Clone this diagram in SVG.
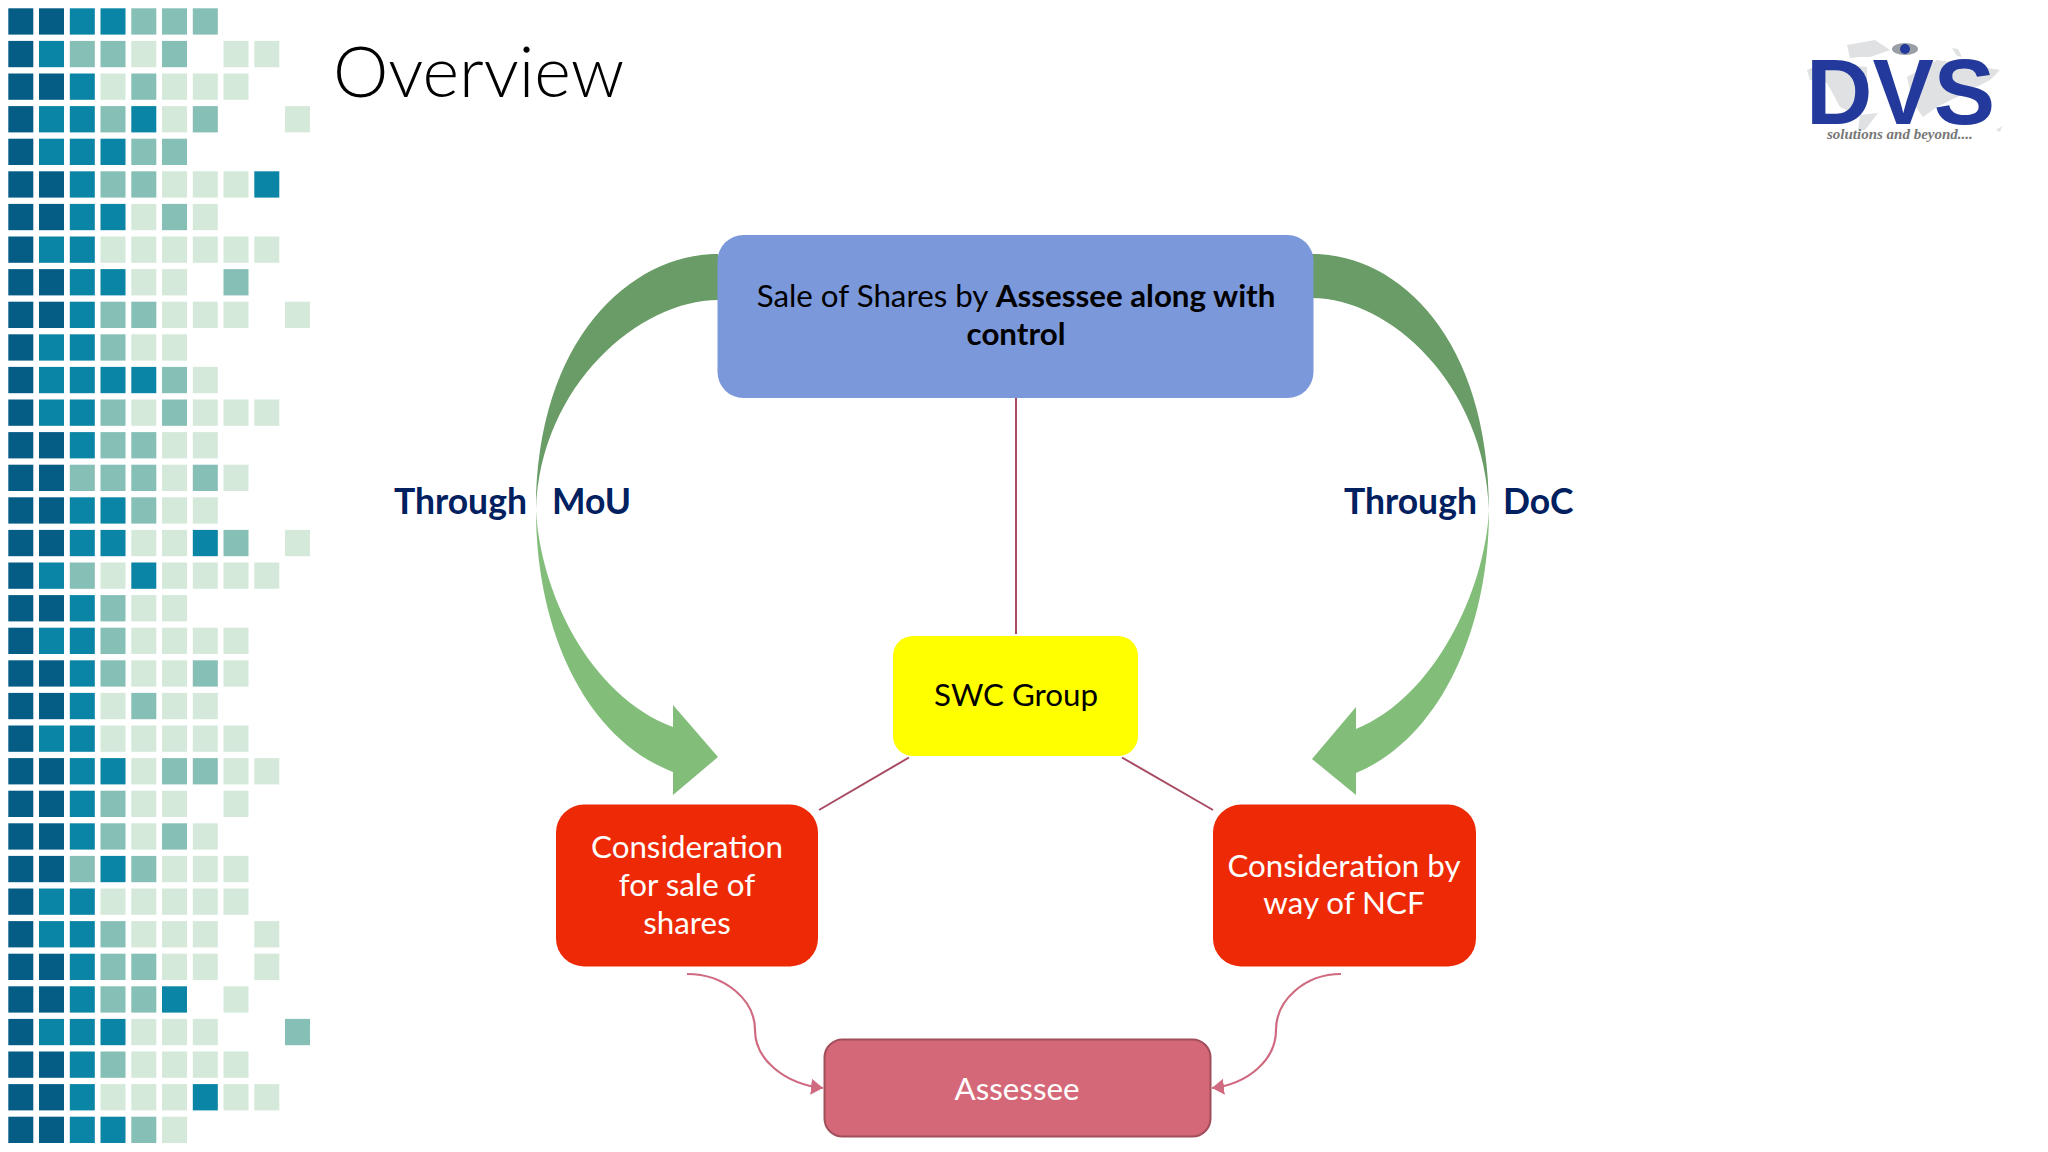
<svg xmlns="http://www.w3.org/2000/svg" width="2048" height="1152" viewBox="0 0 2048 1152">
<style>
text{font-family:"Lato","Liberation Sans",sans-serif}
#pattern rect{width:25px;height:26.3px}
.D{fill:#055c85}.T{fill:#0b85a6}.M{fill:#85bfb6}.L{fill:#d4e9da}
.dark{fill:#699c66}.light{fill:#82bd7a}
.line{fill:none;stroke:#a84a62;stroke-width:2}
.curve{fill:none;stroke:#cf6a80;stroke-width:2.2;marker-end:url(#head)}
.lbl{font-size:31.3px;text-anchor:middle}
.big{font-size:35.5px;font-weight:700;fill:#002060}
</style>
<defs><marker id="head" markerUnits="userSpaceOnUse" markerWidth="14" markerHeight="16" refX="12" refY="8" orient="auto"><path d="M0,0L12,8L0,16z" fill="#cf6a80"/></marker></defs>
<rect width="2048" height="1152" fill="#fff"/>
<g id="pattern">
<g transform="translate(0,8.3)"><rect class="D" x="8.3"/><rect class="D" x="39"/><rect class="T" x="69.8"/><rect class="T" x="100.5"/><rect class="M" x="131.3"/><rect class="M" x="162"/><rect class="M" x="192.8"/></g>
<g transform="translate(0,40.9)"><rect class="D" x="8.3"/><rect class="T" x="39"/><rect class="M" x="69.8"/><rect class="M" x="100.5"/><rect class="L" x="131.3"/><rect class="M" x="162"/><rect class="L" x="223.5"/><rect class="L" x="254.3"/></g>
<g transform="translate(0,73.5)"><rect class="D" x="8.3"/><rect class="D" x="39"/><rect class="T" x="69.8"/><rect class="L" x="100.5"/><rect class="M" x="131.3"/><rect class="L" x="162"/><rect class="L" x="192.8"/><rect class="L" x="223.5"/></g>
<g transform="translate(0,106.1)"><rect class="D" x="8.3"/><rect class="T" x="39"/><rect class="T" x="69.8"/><rect class="M" x="100.5"/><rect class="T" x="131.3"/><rect class="L" x="162"/><rect class="M" x="192.8"/><rect class="L" x="285"/></g>
<g transform="translate(0,138.7)"><rect class="D" x="8.3"/><rect class="T" x="39"/><rect class="T" x="69.8"/><rect class="T" x="100.5"/><rect class="M" x="131.3"/><rect class="M" x="162"/></g>
<g transform="translate(0,171.3)"><rect class="D" x="8.3"/><rect class="D" x="39"/><rect class="T" x="69.8"/><rect class="M" x="100.5"/><rect class="M" x="131.3"/><rect class="L" x="162"/><rect class="L" x="192.8"/><rect class="L" x="223.5"/><rect class="T" x="254.3"/></g>
<g transform="translate(0,203.9)"><rect class="D" x="8.3"/><rect class="D" x="39"/><rect class="T" x="69.8"/><rect class="T" x="100.5"/><rect class="L" x="131.3"/><rect class="M" x="162"/><rect class="L" x="192.8"/></g>
<g transform="translate(0,236.5)"><rect class="D" x="8.3"/><rect class="T" x="39"/><rect class="T" x="69.8"/><rect class="L" x="100.5"/><rect class="L" x="131.3"/><rect class="L" x="162"/><rect class="L" x="192.8"/><rect class="L" x="223.5"/><rect class="L" x="254.3"/></g>
<g transform="translate(0,269.1)"><rect class="D" x="8.3"/><rect class="D" x="39"/><rect class="T" x="69.8"/><rect class="T" x="100.5"/><rect class="L" x="131.3"/><rect class="L" x="162"/><rect class="M" x="223.5"/></g>
<g transform="translate(0,301.7)"><rect class="D" x="8.3"/><rect class="D" x="39"/><rect class="T" x="69.8"/><rect class="M" x="100.5"/><rect class="M" x="131.3"/><rect class="L" x="162"/><rect class="L" x="192.8"/><rect class="L" x="223.5"/><rect class="L" x="285"/></g>
<g transform="translate(0,334.3)"><rect class="D" x="8.3"/><rect class="T" x="39"/><rect class="T" x="69.8"/><rect class="M" x="100.5"/><rect class="L" x="131.3"/><rect class="L" x="162"/></g>
<g transform="translate(0,366.9)"><rect class="D" x="8.3"/><rect class="T" x="39"/><rect class="T" x="69.8"/><rect class="T" x="100.5"/><rect class="T" x="131.3"/><rect class="M" x="162"/><rect class="L" x="192.8"/></g>
<g transform="translate(0,399.5)"><rect class="D" x="8.3"/><rect class="T" x="39"/><rect class="T" x="69.8"/><rect class="M" x="100.5"/><rect class="L" x="131.3"/><rect class="M" x="162"/><rect class="L" x="192.8"/><rect class="L" x="223.5"/><rect class="L" x="254.3"/></g>
<g transform="translate(0,432.1)"><rect class="D" x="8.3"/><rect class="D" x="39"/><rect class="T" x="69.8"/><rect class="M" x="100.5"/><rect class="M" x="131.3"/><rect class="L" x="162"/><rect class="L" x="192.8"/></g>
<g transform="translate(0,464.7)"><rect class="D" x="8.3"/><rect class="D" x="39"/><rect class="M" x="69.8"/><rect class="M" x="100.5"/><rect class="M" x="131.3"/><rect class="L" x="162"/><rect class="M" x="192.8"/><rect class="L" x="223.5"/></g>
<g transform="translate(0,497.3)"><rect class="D" x="8.3"/><rect class="D" x="39"/><rect class="T" x="69.8"/><rect class="T" x="100.5"/><rect class="M" x="131.3"/><rect class="L" x="162"/><rect class="L" x="192.8"/></g>
<g transform="translate(0,529.9)"><rect class="D" x="8.3"/><rect class="D" x="39"/><rect class="T" x="69.8"/><rect class="T" x="100.5"/><rect class="L" x="131.3"/><rect class="L" x="162"/><rect class="T" x="192.8"/><rect class="M" x="223.5"/><rect class="L" x="285"/></g>
<g transform="translate(0,562.5)"><rect class="D" x="8.3"/><rect class="T" x="39"/><rect class="M" x="69.8"/><rect class="L" x="100.5"/><rect class="T" x="131.3"/><rect class="L" x="162"/><rect class="L" x="192.8"/><rect class="L" x="223.5"/><rect class="L" x="254.3"/></g>
<g transform="translate(0,595.1)"><rect class="D" x="8.3"/><rect class="D" x="39"/><rect class="T" x="69.8"/><rect class="M" x="100.5"/><rect class="L" x="131.3"/><rect class="L" x="162"/></g>
<g transform="translate(0,627.7)"><rect class="D" x="8.3"/><rect class="T" x="39"/><rect class="T" x="69.8"/><rect class="M" x="100.5"/><rect class="L" x="131.3"/><rect class="L" x="162"/><rect class="L" x="192.8"/><rect class="L" x="223.5"/></g>
<g transform="translate(0,660.3)"><rect class="D" x="8.3"/><rect class="D" x="39"/><rect class="T" x="69.8"/><rect class="M" x="100.5"/><rect class="L" x="131.3"/><rect class="L" x="162"/><rect class="M" x="192.8"/><rect class="L" x="223.5"/></g>
<g transform="translate(0,692.9)"><rect class="D" x="8.3"/><rect class="D" x="39"/><rect class="T" x="69.8"/><rect class="L" x="100.5"/><rect class="M" x="131.3"/><rect class="L" x="162"/><rect class="L" x="192.8"/></g>
<g transform="translate(0,725.5)"><rect class="D" x="8.3"/><rect class="T" x="39"/><rect class="T" x="69.8"/><rect class="L" x="100.5"/><rect class="L" x="131.3"/><rect class="L" x="162"/><rect class="L" x="192.8"/><rect class="L" x="223.5"/></g>
<g transform="translate(0,758.1)"><rect class="D" x="8.3"/><rect class="D" x="39"/><rect class="T" x="69.8"/><rect class="T" x="100.5"/><rect class="L" x="131.3"/><rect class="M" x="162"/><rect class="M" x="192.8"/><rect class="L" x="223.5"/><rect class="L" x="254.3"/></g>
<g transform="translate(0,790.7)"><rect class="D" x="8.3"/><rect class="D" x="39"/><rect class="T" x="69.8"/><rect class="M" x="100.5"/><rect class="L" x="131.3"/><rect class="L" x="162"/><rect class="L" x="223.5"/></g>
<g transform="translate(0,823.3)"><rect class="D" x="8.3"/><rect class="D" x="39"/><rect class="T" x="69.8"/><rect class="M" x="100.5"/><rect class="L" x="131.3"/><rect class="M" x="162"/><rect class="L" x="192.8"/></g>
<g transform="translate(0,855.9)"><rect class="D" x="8.3"/><rect class="D" x="39"/><rect class="M" x="69.8"/><rect class="T" x="100.5"/><rect class="M" x="131.3"/><rect class="L" x="162"/><rect class="L" x="192.8"/><rect class="L" x="223.5"/></g>
<g transform="translate(0,888.5)"><rect class="D" x="8.3"/><rect class="T" x="39"/><rect class="T" x="69.8"/><rect class="L" x="100.5"/><rect class="L" x="131.3"/><rect class="L" x="162"/><rect class="L" x="192.8"/><rect class="L" x="223.5"/></g>
<g transform="translate(0,921.1)"><rect class="D" x="8.3"/><rect class="T" x="39"/><rect class="T" x="69.8"/><rect class="M" x="100.5"/><rect class="L" x="131.3"/><rect class="L" x="162"/><rect class="L" x="192.8"/><rect class="L" x="254.3"/></g>
<g transform="translate(0,953.7)"><rect class="D" x="8.3"/><rect class="D" x="39"/><rect class="T" x="69.8"/><rect class="M" x="100.5"/><rect class="M" x="131.3"/><rect class="L" x="162"/><rect class="L" x="192.8"/><rect class="L" x="254.3"/></g>
<g transform="translate(0,986.3)"><rect class="D" x="8.3"/><rect class="D" x="39"/><rect class="T" x="69.8"/><rect class="M" x="100.5"/><rect class="M" x="131.3"/><rect class="T" x="162"/><rect class="L" x="223.5"/></g>
<g transform="translate(0,1018.9)"><rect class="D" x="8.3"/><rect class="T" x="39"/><rect class="T" x="69.8"/><rect class="T" x="100.5"/><rect class="L" x="131.3"/><rect class="L" x="162"/><rect class="L" x="192.8"/><rect class="M" x="285"/></g>
<g transform="translate(0,1051.5)"><rect class="D" x="8.3"/><rect class="D" x="39"/><rect class="T" x="69.8"/><rect class="M" x="100.5"/><rect class="L" x="131.3"/><rect class="L" x="162"/><rect class="L" x="192.8"/><rect class="L" x="223.5"/></g>
<g transform="translate(0,1084.1)"><rect class="D" x="8.3"/><rect class="D" x="39"/><rect class="T" x="69.8"/><rect class="L" x="100.5"/><rect class="L" x="131.3"/><rect class="L" x="162"/><rect class="T" x="192.8"/><rect class="L" x="223.5"/><rect class="L" x="254.3"/></g>
<g transform="translate(0,1116.7)"><rect class="D" x="8.3"/><rect class="D" x="39"/><rect class="T" x="69.8"/><rect class="T" x="100.5"/><rect class="M" x="131.3"/><rect class="L" x="162"/></g>
</g>
<text id="title" x="333" y="97" font-size="70" font-weight="300" fill="#000" style="font-family:Lato,sans-serif">Overview</text>
<g id="logo">
<path fill="#dfe1e2" d="M1807,70L1823,63L1867,67V93L1853,113L1840,107L1827,83L1810,80zM1847,45L1875,40L1890,50L1870,57L1860,57L1850,58zM1907,77L1937,60L2000,70L1990,80L1957,97L1937,107L1923,117L1913,103zM1860,115L1878,113L1865,130L1858,130zM1952,48l6,1 4,8-5,-1zM1996,130l6-4-2,6z"/>
<ellipse cx="1905" cy="49" rx="13" ry="6" fill="#9a9fa6"/><circle cx="1905" cy="49" r="5" fill="#23399b"/>
<text x="1806" y="123.5" font-size="92" font-weight="700" fill="#23399b" style="font-family:'Liberation Sans',sans-serif">DVS</text>
<text x="1827" y="139" font-size="15" font-weight="700" font-style="italic" fill="#777" style="font-family:'Liberation Serif',serif">solutions and beyond....</text>
</g>
<g id="connectors">
<path class="dark" d="M718,254C630,254 536,340 536,510C540,385 640,300 718,300z"/>
<path class="light" d="M536,510C536,630 585,738 673,772V795L718,757L673,705V727C588,695 540,590 536,510z"/>
<path class="dark" d="M1312,254C1400,254 1489,340 1489,510C1485,385 1390,298 1312,298z"/>
<path class="light" d="M1489,510C1489,630 1440,738 1356,773V795L1312,759L1356,707V729C1435,697 1485,590 1489,510z"/>
<line class="line" x1="1016" y1="398" x2="1016" y2="634"/>
<line class="line" x1="909" y1="757.5" x2="819" y2="810"/>
<line class="line" x1="1122" y1="757.5" x2="1213" y2="810"/>
<path class="curve" d="M687,974C725,974 755,1000 755,1030C755,1060 785,1084 823,1088"/>
<path class="curve" d="M1341,974C1305,974 1276,1000 1276,1030C1276,1060 1248,1084 1212,1088"/>
</g>
<g id="node-sale"><rect x="717.5" y="235" width="596" height="163" rx="26" fill="#7b98da"/>
<text class="lbl" x="1016" y="307" fill="#000">Sale of Shares by <tspan font-weight="700">Assessee along with</tspan></text>
<text class="lbl" x="1016" y="345" font-weight="700" fill="#000">control</text></g>
<g id="node-swc"><rect x="893" y="636" width="245" height="120" rx="20" fill="#ffff00"/>
<text class="lbl" x="1016" y="706" fill="#000">SWC Group</text></g>
<g id="node-consideration-shares"><rect x="556" y="804.5" width="262" height="162" rx="28" fill="#ee2a06"/>
<text class="lbl" x="687" y="858" fill="#fff">Consideration</text>
<text class="lbl" x="687" y="896" fill="#fff">for sale of</text>
<text class="lbl" x="687" y="934" fill="#fff">shares</text></g>
<g id="node-consideration-ncf"><rect x="1213" y="804.5" width="263" height="162" rx="28" fill="#ee2a06"/>
<text class="lbl" x="1344" y="877" fill="#fff">Consideration by</text>
<text class="lbl" x="1344" y="914" fill="#fff">way of NCF</text></g>
<g id="node-assessee"><rect x="824.5" y="1039.5" width="386" height="97" rx="18" fill="#d56878" stroke="#a04e5a" stroke-width="2"/>
<text class="lbl" x="1017" y="1100" fill="#fff">Assessee</text></g>
<text class="big" y="514"><tspan x="394">Through</tspan><tspan x="552">MoU</tspan></text>
<text class="big" y="514"><tspan x="1344">Through</tspan><tspan x="1503">DoC</tspan></text>
</svg>
